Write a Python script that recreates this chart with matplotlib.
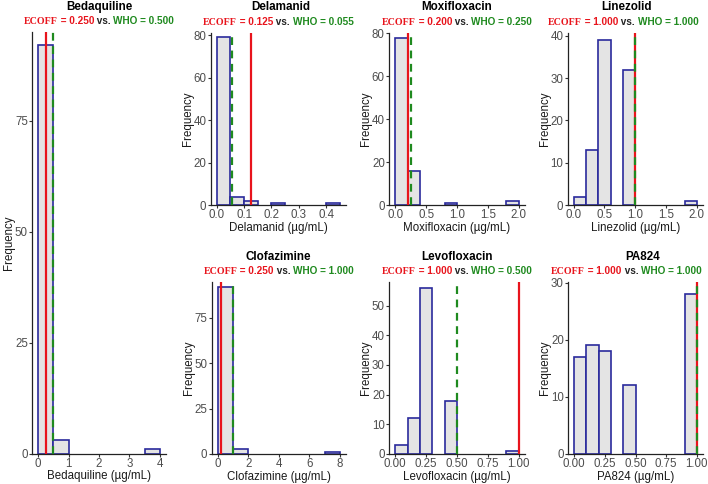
import matplotlib
matplotlib.use("Agg")
import matplotlib.pyplot as plt
from matplotlib.offsetbox import TextArea, HPacker, AnnotationBbox

plt.rcParams['font.family'] = ['Liberation Sans', 'DejaVu Sans']

# ---- data (bin left edges, bin width, counts, breakpoints) ----
drugs = ["Bedaquiline", "Delamanid", "Moxifloxacin", "Linezolid",
         "Clofazimine", "Levofloxacin", "PA824"]

bed_left = [0.0, 0.5, 3.5]
bed_count = [92, 3, 1]
dela_left = [0.0, 0.05, 0.10, 0.20, 0.40]
dela_count = [79, 4, 2, 1, 1]
moxi_left = [0.0, 0.2, 0.8, 1.8]
moxi_count = [78, 16, 1, 2]
line_left = [0.0, 0.2, 0.4, 0.8, 1.8]
line_count = [2, 13, 39, 32, 1]
clof_left = [0, 1, 7]
clof_count = [92, 3, 1]
levo_left = [0.0, 0.1, 0.2, 0.4, 0.9]
levo_count = [3, 12, 56, 18, 1]
pa_left = [0.0, 0.1, 0.2, 0.4, 0.9]
pa_count = [17, 19, 18, 12, 28]

bin_width = [0.5, 0.05, 0.2, 0.2, 1.0, 0.1, 0.1]
ecoff = [0.250, 0.125, 0.200, 1.000, 0.250, 1.000, 1.000]
who = [0.500, 0.055, 0.250, 1.000, 1.000, 0.500, 1.000]

x_ticks = [[0, 1, 2, 3, 4], [0.0, 0.1, 0.2, 0.3, 0.4], [0.0, 0.5, 1.0, 1.5, 2.0],
           [0.0, 0.5, 1.0, 1.5, 2.0], [0, 2, 4, 6, 8],
           [0.0, 0.25, 0.5, 0.75, 1.0], [0.0, 0.25, 0.5, 0.75, 1.0]]
x_fmt = ["{:.0f}", "{:.1f}", "{:.1f}", "{:.1f}", "{:.0f}", "{:.2f}", "{:.2f}"]
y_ticks = [[0, 25, 50, 75], [0, 20, 40, 60, 80], [0, 20, 40, 60, 80],
           [0, 10, 20, 30, 40], [0, 25, 50, 75], [0, 10, 20, 30, 40, 50],
           [0, 10, 20, 30]]

lefts = [bed_left, dela_left, moxi_left, line_left, clof_left, levo_left, pa_left]
counts = [bed_count, dela_count, moxi_count, line_count, clof_count, levo_count, pa_count]

# ---- layout (pixels: left, top, right, bottom) ----
W, H = 708, 484
boxes = [(32, 32, 166, 453.5),
         (210.5, 32.5, 346, 205), (389, 32.5, 525, 205), (567.5, 32.5, 703, 205),
         (211.5, 281.5, 346, 454), (389, 281.5, 525, 454), (568, 281.5, 703, 454)]
y_top = [95, 81.2, 80.4, 40.8, 95, 58.1, 30.2]
title_dx = [0, 2, 0, -9, 0, 0, 7]      # px shift of titles
sub_dx = [0, 0, 0, -12, 0, 0, -9]      # px shift of subtitles (kept inside figure)

RED = "#E8141C"
GREEN = "#1F8A1F"
EDGE = "#2A2A9C"
FILL = "#E4E4E4"

fig = plt.figure(figsize=(W / 100, H / 100), dpi=100)

for i, name in enumerate(drugs):
    l, t, r, b = boxes[i]
    ax = fig.add_axes([l / W, 1 - b / H, (r - l) / W, (b - t) / H])
    ax.bar(lefts[i], counts[i], width=bin_width[i], align='edge',
           color=FILL, edgecolor=EDGE, linewidth=1.2, zorder=2)
    ax.axvline(ecoff[i], color=RED, lw=1.6, zorder=3)
    ax.axvline(who[i], color=GREEN, lw=1.6, ls=(0, (3.5, 2.5)), zorder=4)

    lo = min(lefts[i])
    hi = max(lefts[i]) + bin_width[i]
    pad = 0.05 * (hi - lo)
    ax.set_xlim(lo - pad, hi + pad)
    ax.set_ylim(0, y_top[i])
    ax.set_xticks(x_ticks[i])
    ax.set_xticklabels([x_fmt[i].format(v) for v in x_ticks[i]])
    ax.set_yticks(y_ticks[i])

    for s in ['top', 'right']:
        ax.spines[s].set_visible(False)
    for s in ['left', 'bottom']:
        ax.spines[s].set_color('#222222')
        ax.spines[s].set_linewidth(0.9)
    ax.tick_params(direction='out', length=2.5, width=0.8, color='#333333',
                   labelsize=8.3, labelcolor='#4D4D4D', pad=0.5)

    wpx, hpx = r - l, b - t
    ax.set_xlabel(name + " (\u00b5g/mL)", fontsize=8.3, color='#1A1A1A')
    ax.xaxis.set_label_coords(0.5, -17 / hpx)
    ax.set_ylabel("Frequency", fontsize=8.3, color='#1A1A1A')
    ax.yaxis.set_label_coords(-17 / wpx, 0.5)

    ax.annotate(name, (0.5, 1), xycoords='axes fraction',
                xytext=(title_dx[i] * 0.72, 22 * 0.72), textcoords='offset points',
                ha='center', va='baseline', fontsize=8.4, fontweight='bold')

    sub = dict(size=7.2, weight='bold')
    parts = [TextArea("ECOFF", textprops=dict(color=RED, family='Liberation Serif', **sub)),
             TextArea(" = {:.3f}".format(ecoff[i]), textprops=dict(color=RED, **sub)),
             TextArea(" vs. ", textprops=dict(color='#222222', **sub)),
             TextArea("WHO = {:.3f}".format(who[i]), textprops=dict(color=GREEN, **sub))]
    pack = HPacker(children=parts, align='baseline', pad=0, sep=0)
    ab = AnnotationBbox(pack, (0.5, 1), xycoords='axes fraction',
                        xybox=(sub_dx[i] * 0.72, 10.5 * 0.72), boxcoords='offset points',
                        frameon=False, box_alignment=(0.5, 0.5), pad=0)
    ax.add_artist(ab)

fig.savefig("out.png", dpi=100)
